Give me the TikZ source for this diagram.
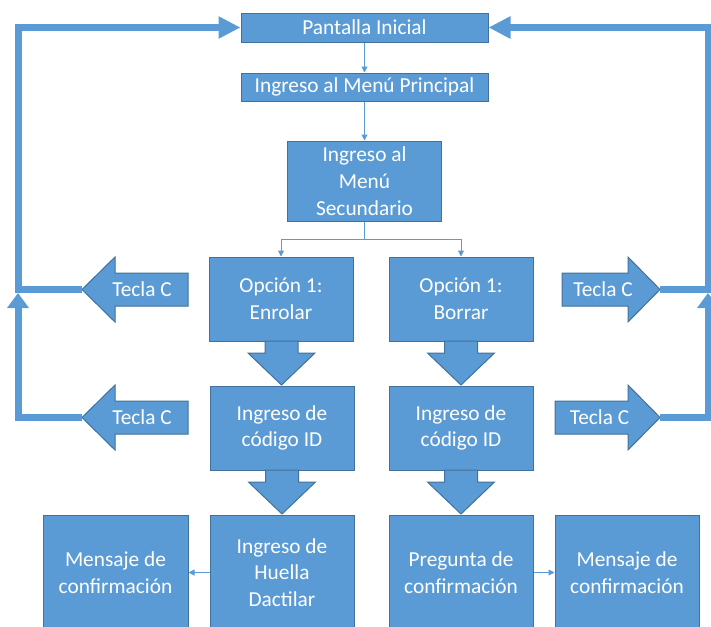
\documentclass[tikz,border=0pt]{standalone}
\usepackage{fontspec}
\setmainfont{Carlito}
\usetikzlibrary{arrows.meta}
\definecolor{boxblue}{HTML}{5B9BD5}
\definecolor{edgeblue}{HTML}{41719C}

\begin{document}
\begin{tikzpicture}[x=0.75pt, y=-0.75pt,
		flowbox/.style = {draw=edgeblue, fill=boxblue, line width=0.75pt, text=white, align=center, inner sep=0pt, font=\fontsize{16}{20}\selectfont},
		blockarrow/.style = {draw=edgeblue, fill=boxblue, line width=0.75pt},
		keytext/.style = {text=white, font=\fontsize{16}{20}\selectfont},
		flowarrow/.style = {draw=boxblue, line width=0.75pt, -{Triangle[length=4.5pt, width=4.5pt]}},
		loopline/.style = {draw=boxblue, line width=5.25pt},
	]
		
		\clip (0,0) rectangle (711,626);
		
		% top of the flow
		\node[flowbox, minimum width=185.25pt, minimum height=21.75pt] (pantalla) at (364.5,27.5) {Pantalla Inicial};
		\node[flowbox, minimum width=185.25pt, minimum height=21pt] (principal) at (364.5,87) {Ingreso al Menú Principal};
		\node[flowbox, minimum width=115.5pt, minimum height=60pt] (secundario) at (364.5,181) {Ingreso al\\Menú\\Secundario};
		
		% left column
		\node[flowbox, minimum width=108pt, minimum height=63pt] (enrolar) at (281,299) {Opción 1:\\Enrolar};
		\node[flowbox, minimum width=108pt, minimum height=63pt] (codigoA) at (282,428) {Ingreso de\\código ID};
		\node[flowbox, minimum width=108pt, minimum height=86.25pt] (huella) at (282,572.5) {Ingreso de\\Huella\\Dactilar};
		\node[flowbox, minimum width=108.75pt, minimum height=86.25pt] (mensajeA) at (115.5,572.5) {Mensaje de\\confirmación};
		
		% right column
		\node[flowbox, minimum width=108pt, minimum height=63pt] (borrar) at (461,299) {Opción 1:\\Borrar};
		\node[flowbox, minimum width=108pt, minimum height=63pt] (codigoB) at (461,428) {Ingreso de\\código ID};
		\node[flowbox, minimum width=108pt, minimum height=86.25pt] (pregunta) at (461,572.5) {Pregunta de\\confirmación};
		\node[flowbox, minimum width=108pt, minimum height=86.25pt] (mensajeB) at (627,572.5) {Mensaje de\\confirmación};
		
		% block arrows down
		\filldraw[blockarrow] (265,341) -- (298,341) -- (298,353) -- (315,353) -- (281.5,385) -- (248,353) -- (265,353) -- cycle;
		\filldraw[blockarrow, shift={(0.5,129)}] (265,341) -- (298,341) -- (298,353) -- (315,353) -- (281.5,385) -- (248,353) -- (265,353) -- cycle;
		\filldraw[blockarrow, shift={(179.5,0)}] (265,341) -- (298,341) -- (298,353) -- (315,353) -- (281.5,385) -- (248,353) -- (265,353) -- cycle;
		\filldraw[blockarrow, shift={(179.5,129)}] (265,341) -- (298,341) -- (298,353) -- (315,353) -- (281.5,385) -- (248,353) -- (265,353) -- cycle;
		
		% key arrows, left
		\filldraw[blockarrow] (188,273) -- (115,273) -- (115,257) -- (82,289.5) -- (115,322) -- (115,306) -- (188,306) -- cycle;
		\filldraw[blockarrow, shift={(0,128)}] (188,273) -- (115,273) -- (115,257) -- (82,289.5) -- (115,322) -- (115,306) -- (188,306) -- cycle;
		% key arrows, right
		\filldraw[blockarrow] (562,273) -- (628,273) -- (628,257) -- (660,289.5) -- (628,322) -- (628,306) -- (562,306) -- cycle;
		\filldraw[blockarrow, shift={(0,128)}] (555,273) -- (628,273) -- (628,257) -- (660,289.5) -- (628,322) -- (628,306) -- (555,306) -- cycle;
		
		\node[keytext] (teclaA) at (142,289.5) {Tecla C};
		\node[keytext] (teclaB) at (142,417.5) {Tecla C};
		\node[keytext] (teclaC) at (603,289.5) {Tecla C};
		\node[keytext] (teclaD) at (599.5,417.5) {Tecla C};
		
		\coordinate (tipA) at (82,289.5);
		\coordinate (tipB) at (82,417.5);
		\coordinate (tipC) at (660,289.5);
		\coordinate (tipD) at (660,417.5);
		\coordinate (joinL) at (18,293);
		\coordinate (joinR) at (708,293);
		
		% thin connectors
		\draw[flowarrow] (pantalla) -- (principal);
		\draw[flowarrow] (principal) -- (secundario);
		\draw[flowarrow] (secundario.south) -- ++(0,18) -| (enrolar.north);
		\draw[flowarrow] (secundario.south) -- ++(0,18) -| (borrar.north);
		\draw[flowarrow] (huella.west) -- (mensajeA.east);
		\draw[flowarrow] (pregunta.east) -- (mensajeB.west);
		
		% return loops
		\draw[loopline, -{Triangle[length=16.5pt, width=15.75pt]}] (tipA) -- (18,289.5) |- (pantalla.west);
		\draw[loopline, -{Triangle[length=11.25pt, width=15.75pt]}] (tipB) -- (18,417.5) -- (joinL);
		\draw[loopline, -{Triangle[length=16.5pt, width=15.75pt]}] (tipC) -- (708,289.5) |- (pantalla.east);
		\draw[loopline, -{Triangle[length=11.25pt, width=15.75pt]}] (tipD) -- (708,417.5) -- (joinR);
		
	\end{tikzpicture}
\end{document}
